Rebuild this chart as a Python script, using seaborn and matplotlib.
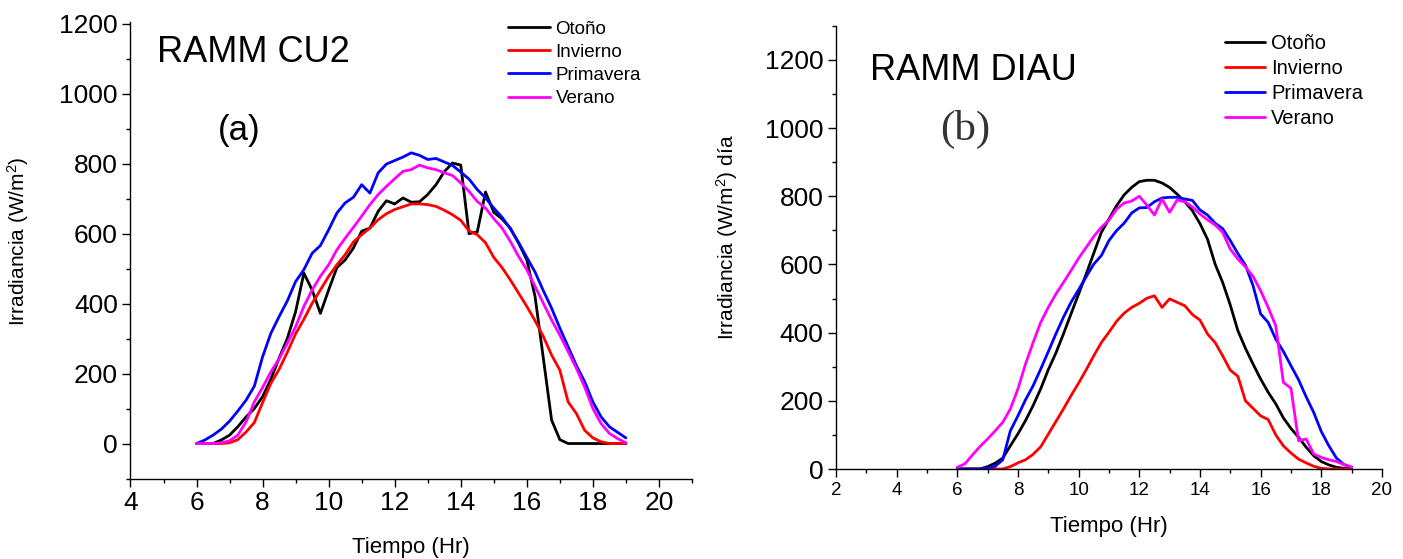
import matplotlib
matplotlib.use("Agg")
import matplotlib.pyplot as plt
import seaborn as sns
from matplotlib.ticker import MultipleLocator

# hours of the day, every 15 minutes
horas = [6, 6.25, 6.5, 6.75, 7, 7.25, 7.5, 7.75, 8, 8.25, 8.5, 8.75, 9, 9.25, 9.5, 9.75,
         10, 10.25, 10.5, 10.75, 11, 11.25, 11.5, 11.75, 12, 12.25, 12.5, 12.75, 13,
         13.25, 13.5, 13.75, 14, 14.25, 14.5, 14.75, 15, 15.25, 15.5, 15.75, 16, 16.25,
         16.5, 16.75, 17, 17.25, 17.5, 17.75, 18, 18.25, 18.5, 18.75, 19]

estaciones = ["Otoño", "Invierno", "Primavera", "Verano"]
colores = ["#000000", "#ff0000", "#0000ff", "#ff00ff"]

# (a) RAMM CU2
cu2_otono = [0, 0, 0, 10, 24, 48, 76, 100, 134, 184, 244, 301, 377, 487, 439, 372, 439,
             503, 525, 559, 607, 616, 664, 694, 685, 702, 690, 691, 712, 740, 777, 802,
             796, 600, 605, 719, 661, 642, 616, 573, 525, 420, 244, 67, 11, 0, 0, 0, 0,
             0, 0, 0, 0]
cu2_invierno = [0, 0, 0, 0, 2, 11, 33, 60, 117, 172, 212, 261, 314, 355, 401, 439, 478,
                511, 540, 576, 597, 616, 640, 657, 669, 677, 685, 685, 683, 678, 667, 654,
                638, 608, 597, 574, 532, 503, 468, 430, 392, 351, 306, 253, 210, 119, 86,
                38, 16, 5, 0, 0, 0]
cu2_primavera = [0, 10, 24, 41, 64, 93, 124, 164, 248, 315, 363, 408, 463, 497, 544, 566,
                 611, 659, 688, 704, 740, 716, 774, 799, 809, 819, 831, 824, 812, 815, 805,
                 795, 776, 756, 726, 702, 673, 647, 614, 575, 532, 490, 437, 387, 330, 277,
                 223, 177, 119, 76, 48, 32, 16]
cu2_verano = [0, 0, 0, 2, 8, 24, 62, 119, 160, 205, 242, 287, 334, 392, 439, 478, 511, 554,
              587, 618, 650, 683, 712, 735, 757, 778, 783, 796, 788, 783, 774, 766, 745,
              721, 692, 673, 643, 616, 578, 535, 497, 449, 401, 353, 310, 263, 215, 162,
              100, 57, 29, 14, 2]

# (b) RAMM DIAU
diau_otono = [0, 0, 0, 0, 7, 17, 32, 68, 103, 142, 186, 235, 291, 340, 396, 455, 513, 572,
              633, 694, 733, 772, 804, 826, 843, 847, 847, 839, 826, 806, 784, 758, 720,
              674, 601, 547, 481, 406, 354, 308, 264, 225, 191, 150, 119, 93, 64, 39, 22,
              12, 5, 2, 0]
diau_invierno = [0, 0, 0, 0, 0, 0, 0, 7, 18, 27, 43, 65, 102, 139, 176, 215, 252, 291, 332,
                 371, 401, 433, 457, 474, 486, 501, 508, 474, 499, 489, 479, 453, 437, 396,
                 371, 332, 290, 272, 200, 178, 156, 145, 100, 68, 47, 29, 18, 8, 2, 0, 0,
                 0, 0]
diau_primavera = [0, 0, 0, 0, 2, 8, 27, 112, 156, 203, 244, 293, 344, 396, 445, 489, 526,
                  564, 601, 626, 670, 699, 721, 751, 766, 767, 784, 795, 797, 797, 792, 788,
                  760, 745, 721, 705, 670, 632, 598, 538, 455, 430, 381, 345, 303, 262, 212,
                  166, 110, 68, 32, 13, 5]
diau_verano = [5, 15, 41, 66, 88, 112, 137, 176, 235, 308, 371, 430, 474, 513, 547, 582,
               618, 650, 682, 709, 730, 762, 780, 786, 800, 774, 745, 792, 753, 789, 784,
               769, 748, 731, 716, 694, 645, 616, 593, 565, 523, 474, 420, 254, 237, 83, 88,
               44, 34, 27, 22, 13, 5]

sns.set_style("ticks")
plt.rcParams["font.family"] = ["Liberation Sans", "DejaVu Sans"]
plt.rcParams["mathtext.fontset"] = "custom"
plt.rcParams["mathtext.rm"] = "Liberation Sans"
plt.rcParams["mathtext.it"] = "Liberation Sans:italic"
plt.rcParams["mathtext.bf"] = "Liberation Sans:bold"
for k in ["text.color", "axes.labelcolor", "xtick.color", "ytick.color"]:
    plt.rcParams[k] = "black"

fig = plt.figure(figsize=(14.03, 5.59), dpi=100)
ax1 = fig.add_axes([0.0930, 0.1440, 0.4002, 0.8166])
ax2 = fig.add_axes([0.5958, 0.1610, 0.3892, 0.7928])

for ax, series in [(ax1, [cu2_otono, cu2_invierno, cu2_primavera, cu2_verano]),
                   (ax2, [diau_otono, diau_invierno, diau_primavera, diau_verano])]:
    for nombre, col, vals in zip(estaciones, colores, series):
        sns.lineplot(x=horas, y=vals, color=col, label=nombre, lw=2.0, ax=ax)
    sns.despine(ax=ax)
    for s in ["left", "bottom"]:
        ax.spines[s].set_linewidth(1.0)
        ax.spines[s].set_color("black")
    ax.yaxis.set_major_locator(MultipleLocator(200))
    ax.yaxis.set_minor_locator(MultipleLocator(100))
    ax.xaxis.set_major_locator(MultipleLocator(2))
    ax.xaxis.set_minor_locator(MultipleLocator(1))
    ax.tick_params(which="major", direction="out", length=6, width=1.0, color="black", pad=3)
    ax.tick_params(which="minor", direction="out", length=3, width=1.0, color="black")

# panel (a)
ax1.set_xlim(4, 21)
ax1.set_ylim(-100, 1205)
ax1.tick_params(which="major", labelsize=19)
ax1.set_xlabel("Tiempo (Hr)", fontsize=16)
ax1.set_ylabel("Irradiancia (W/m$^{2}$)", fontsize=15)
ax1.xaxis.set_label_coords(0.5, -0.128)
ax1.yaxis.set_label_coords(-0.177, 0.52)
ax1.text(0.047, 0.913, "RAMM CU2", transform=ax1.transAxes, fontsize=26, va="baseline")
ax1.text(0.193, 0.763, "(a)", transform=ax1.transAxes, fontsize=25, ha="center", va="center")
ax1.legend(loc="upper left", bbox_to_anchor=(0.672, 1.003), frameon=False, fontsize=13.5,
           borderpad=0, borderaxespad=0, handlelength=2.25, handletextpad=0.3,
           labelspacing=0.32)

# panel (b)
ax2.set_xlim(2, 20)
ax2.set_ylim(0, 1300)
ax2.tick_params(axis="y", which="major", labelsize=19)
ax2.tick_params(axis="x", which="major", labelsize=13.5)
ax2.set_xlabel("Tiempo (Hr)", fontsize=16)
ax2.set_ylabel("Irradiancia (W/m$^{2}$) día", fontsize=15)
ax2.xaxis.set_label_coords(0.5, -0.107)
ax2.yaxis.set_label_coords(-0.176, 0.523)
ax2.text(0.0617, 0.878, "RAMM DIAU", transform=ax2.transAxes, fontsize=26, va="baseline")
ax2.text(0.2364, 0.767, "(b)", transform=ax2.transAxes, fontsize=31, ha="center",
         va="center", color="#333333", family=["Liberation Serif", "DejaVu Serif"])
ax2.legend(loc="upper left", bbox_to_anchor=(0.7126, 0.982), frameon=False, fontsize=14.5,
           borderpad=0, borderaxespad=0, handlelength=2.0, handletextpad=0.3,
           labelspacing=0.3)

fig.savefig("out.png", dpi=100)
